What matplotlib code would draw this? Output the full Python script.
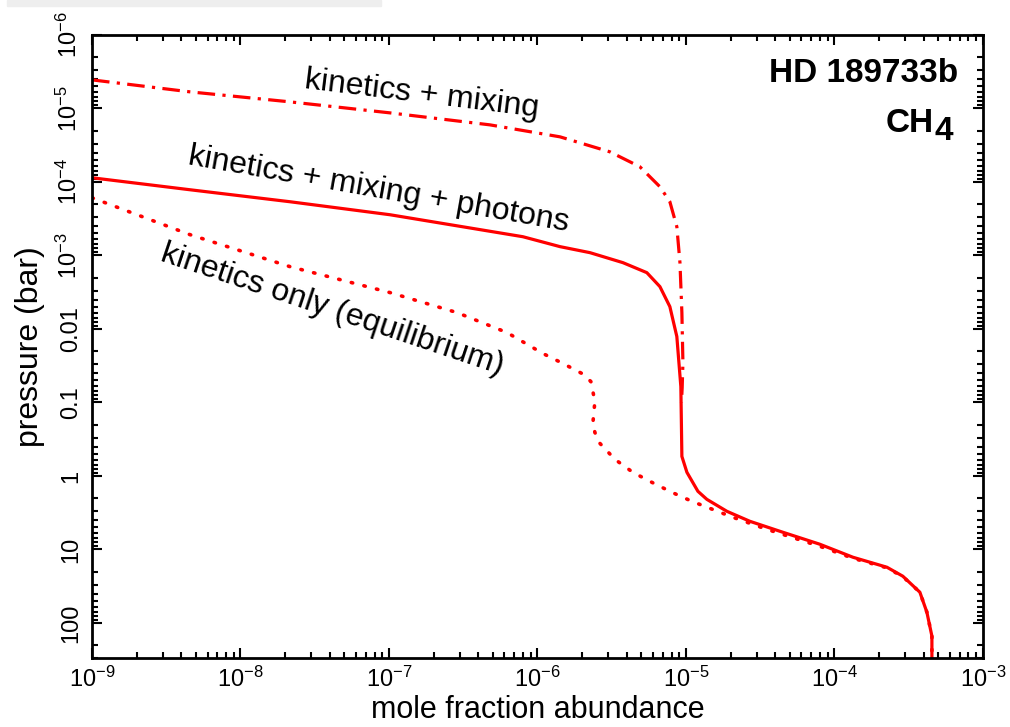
import numpy as np
import matplotlib
matplotlib.use("Agg")
import matplotlib.pyplot as plt
from matplotlib.patches import Rectangle

# values, as log10(mole fraction) and log10(pressure / bar)
mix_logx = [-9.0, -8.34, -7.667, -6.993, -6.32, -5.848, -5.512, -5.31, -5.175, -5.108,
            -5.061, -5.04, -5.027, -5.02, -5.025, -5.03]
mix_logp = [-5.389, -5.226, -5.09, -4.94, -4.777, -4.614, -4.41, -4.207, -3.935, -3.731,
            -3.391, -2.902, -2.223, -1.543, -1.2, -1.0]

phot_logx = [-9.0, -8.34, -7.667, -6.993, -6.098, -5.848, -5.646, -5.424, -5.263, -5.175,
             -5.108, -5.061, -5.047, -5.034, -5.027, -4.993, -4.919, -4.859, -4.724, -4.569,
             -4.347, -4.098, -3.875, -3.646, -3.539, -3.424, -3.377, -3.343, -3.343]
phot_logp = [-4.057, -3.894, -3.731, -3.554, -3.255, -3.12, -3.038, -2.902, -2.766, -2.576,
             -2.304, -1.897, -1.543, -1.217, -0.266, -0.049, 0.209, 0.318, 0.481, 0.617,
             0.766, 0.929, 1.106, 1.242, 1.364, 1.582, 1.853, 2.179, 2.49]

eq_logx = [-9.0, -8.34, -7.667, -6.993, -6.542, -6.205, -5.963, -5.828, -5.70, -5.64,
           -5.613, -5.626, -5.613, -5.579, -5.478, -5.357, -5.229, -5.094, -4.96, -4.684,
           -4.455, -4.098, -3.875, -3.646, -3.539, -3.424, -3.377, -3.343, -3.343]
eq_logp = [-3.785, -3.283, -2.848, -2.495, -2.223, -1.951, -1.666, -1.53, -1.394, -1.285,
           -1.014, -0.728, -0.592, -0.443, -0.226, -0.049, 0.087, 0.223, 0.345, 0.562,
           0.726, 0.957, 1.12, 1.25, 1.37, 1.582, 1.853, 2.179, 2.49]

xticks = [1e-9, 1e-8, 1e-7, 1e-6, 1e-5, 1e-4, 1e-3]
xticklabels = [r"$10^{-9}$", r"$10^{-8}$", r"$10^{-7}$", r"$10^{-6}$", r"$10^{-5}$",
               r"$10^{-4}$", r"$10^{-3}$"]
yticks = [1e-6, 1e-5, 1e-4, 1e-3, 1e-2, 1e-1, 1, 10, 100]
yticklabels = [r"$10^{-6}$", r"$10^{-5}$", r"$10^{-4}$", r"$10^{-3}$", "0.01", "0.1",
               "1", "10", "100"]

plt.rcParams['font.family'] = ['Liberation Sans', 'DejaVu Sans']
plt.rcParams['mathtext.fontset'] = 'custom'
plt.rcParams['mathtext.rm'] = 'Liberation Sans'
plt.rcParams['mathtext.it'] = 'Liberation Sans:italic'
plt.rcParams['mathtext.bf'] = 'Liberation Sans:bold'

fig = plt.figure(figsize=(10.10, 7.27), dpi=100)
fig.patches.append(Rectangle((0.007, 0.992), 0.37, 0.008, transform=fig.transFigure,
                             color='#eeeeee', zorder=0))
ax = fig.add_axes([0.0911, 0.0949, 0.882, 0.857])

red = '#ff0000'
ax.plot(10 ** np.array(mix_logx), 10 ** np.array(mix_logp), color=red, lw=2.3,
        dashes=(5.5, 2.3, 1, 2.3))
ax.plot(10 ** np.array(eq_logx), 10 ** np.array(eq_logp), color=red, lw=2.6,
        dashes=(0.4, 3.2), dash_capstyle='round')
ax.plot(10 ** np.array(phot_logx), 10 ** np.array(phot_logp), color=red, lw=2.3)

ax.set_xscale('log')
ax.set_yscale('log')
ax.set_xlim(1e-9, 1e-3)
ax.set_ylim(300, 1e-6)

ax.set_xticks(xticks)
ax.set_xticklabels(xticklabels, fontsize=17)
ax.set_yticks(yticks)
ax.set_yticklabels(yticklabels, fontsize=17, rotation=90, va='center')
ax.xaxis.set_minor_locator(matplotlib.ticker.LogLocator(base=10, subs=np.arange(2, 10), numticks=20))
ax.yaxis.set_minor_locator(matplotlib.ticker.LogLocator(base=10, subs=np.arange(2, 10), numticks=20))
ax.xaxis.set_minor_formatter(matplotlib.ticker.NullFormatter())
ax.yaxis.set_minor_formatter(matplotlib.ticker.NullFormatter())
ax.tick_params(which='both', direction='in', top=True, right=True, width=1.5)
ax.tick_params(which='major', length=7)
ax.tick_params(which='minor', length=4)
ax.tick_params(axis='x', which='major', pad=6)
ax.tick_params(axis='y', which='major', pad=7)
for s in ax.spines.values():
    s.set_linewidth(2)

ax.set_xlabel("mole fraction abundance", fontsize=22)
ax.set_ylabel("pressure (bar)", fontsize=23)
ax.xaxis.set_label_coords(0.5, -0.083)
ax.xaxis.label.set_va('center')
ax.yaxis.set_label_coords(-0.07, 0.5)
ax.yaxis.label.set_va('center')

# curve labels
ax.text(10 ** (-9 + (422 - 92) / 148.5), 10 ** (-6 + (95 - 35) / 73.6), "kinetics + mixing",
        fontsize=23, rotation=-7, ha='center', va='center', rotation_mode='anchor')
ax.text(10 ** (-9 + (379 - 92) / 148.5), 10 ** (-6 + (190 - 35) / 73.6),
        "kinetics + mixing + photons", fontsize=23, rotation=-10, ha='center',
        va='center', rotation_mode='anchor')
ax.text(10 ** (-9 + (332 - 92) / 148.5), 10 ** (-6 + (310 - 35) / 73.6),
        "kinetics only (equilibrium)", fontsize=23, rotation=-18.5, ha='center',
        va='center', rotation_mode='anchor')

ax.text(0.972, 0.925, "HD 189733b", transform=ax.transAxes, fontsize=24,
        fontweight='bold', ha='right', va='baseline')
ax.text(0.945, 0.844, "CH", transform=ax.transAxes, fontsize=24,
        fontweight='bold', ha='right', va='baseline')
ax.text(0.946, 0.831, "4", transform=ax.transAxes, fontsize=24,
        fontweight='bold', ha='left', va='baseline')

fig.savefig("out.png", dpi=100)
